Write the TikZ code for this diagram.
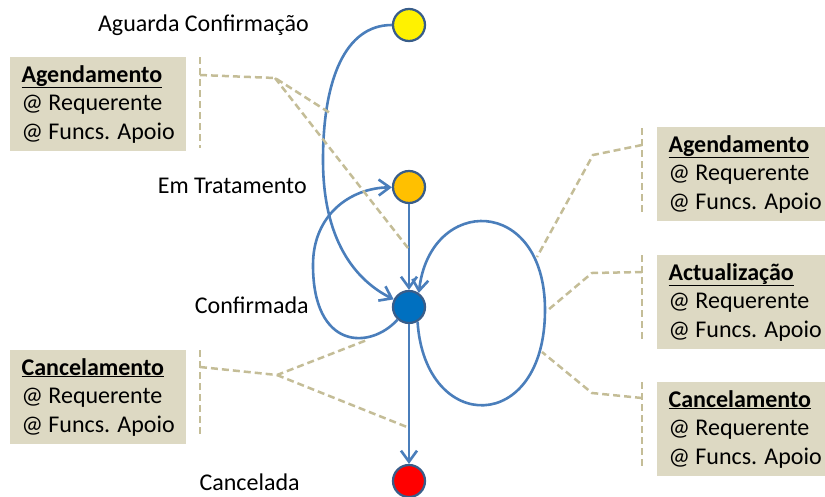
\documentclass[tikz,border=0pt]{standalone}
\usepackage{fontspec}
\setmainfont{Carlito}
\usetikzlibrary{arrows.meta}
\usetikzlibrary{positioning}

\definecolor{linkblue}{HTML}{4A7EBB}
\definecolor{stateborder}{HTML}{385D8A}
\definecolor{notefill}{HTML}{DDD9C3}
\definecolor{guidetan}{HTML}{C4BD97}

\begin{document}
\begin{tikzpicture}[x=1pt,y=-1pt,
  state/.style={circle,draw=stateborder,line width=2.25pt,minimum size=32pt,inner sep=0pt},
  lbl/.style={font=\fontsize{24}{28}\selectfont,inner sep=0pt,text height=17pt,text depth=5pt},
  flow/.style={draw=linkblue,line width=2.6pt,-{Straight Barb[length=11pt,width=16pt]}},
  note/.style={fill=notefill,anchor=north west,align=left,minimum width=176pt,
    inner xsep=10pt,inner ysep=8pt,font=\fontsize{24}{28.5}\selectfont},
  guide/.style={draw=guidetan,line width=2.5pt,dash pattern=on 7pt off 4pt}]
  \useasboundingbox (0,0) rectangle (825,496);

  % estados
  \node[state,fill=yellow]           (aguarda)    at (409,25)  {};
  \node[state,fill={rgb,255:red,255;green,192;blue,0}] (tratamento) at (409,187) {};
  \node[state,fill={rgb,255:red,0;green,112;blue,192}] (confirmada) at (409,307) {};
  \node[state,fill=red]              (cancelada)  at (409,481) {};

  \node[lbl,left=83pt of aguarda]    {Aguarda Confirmação};
  \node[lbl,left=85pt of tratamento] {Em Tratamento};
  \node[lbl,left=83pt of confirmada] {Confirmada};
  \node[lbl,left=92pt of cancelada,yshift=-3pt] {Cancelada};

  % notas
  \node[note] (agLeft) at (10,57)  {\underline{\textbf{Agendamento}}\\@ Requerente\\@ Funcs. Apoio};
  \node[note] (caLeft) at (10,350) {\underline{\textbf{Cancelamento}}\\@ Requerente\\@ Funcs. Apoio};
  \node[note] (agRight) at (657,127) {\underline{\textbf{Agendamento}}\\@ Requerente\\@ Funcs. Apoio};
  \node[note] (acRight) at (657,255) {\underline{\textbf{Actualização}}\\@ Requerente\\@ Funcs. Apoio};
  \node[note] (caRight) at (657,382) {\underline{\textbf{Cancelamento}}\\@ Requerente\\@ Funcs. Apoio};

  % transicoes
  \path[flow]
    (aguarda) .. controls (345,25) and (323,80) .. (323,160)
              .. controls (323,240) and (355,280) .. (confirmada);
  \path[flow] (tratamento) -- (confirmada);
  \path[flow] (confirmada) -- (cancelada);
  \path[flow]
    (confirmada) .. controls (370,350) and (313,350) .. (313,265)
                 .. controls (313,215) and (350,188) .. (tratamento);
  \path[flow]
    (confirmada.-60) .. controls (425,435) and (545,435) .. (545,310)
                     .. controls (545,195) and (430,195) .. (confirmada.55);

  % guias
  \coordinate (g1) at (275,78);
  \coordinate (g2) at (277,375);
  \coordinate (g3) at (593,155);
  \coordinate (g4) at (592,273);
  \coordinate (g5) at (592,393);
  \draw[guide] (200,57) -- (200,148);
  \draw[guide] (200,75) -- (g1) -- (330,113);
  \draw[guide] (g1) -- (408,248);
  \draw[guide] (200,350) -- (200,437);
  \draw[guide] (200,367) -- (g2) -- (367,340);
  \draw[guide] (g2) -- (407,427);
  \draw[guide] (642,128) -- (642,215);
  \draw[guide] (642,145) -- (g3) -- (537,257);
  \draw[guide] (642,255) -- (642,342);
  \draw[guide] (642,272) -- (g4) -- (548,310);
  \draw[guide] (642,382) -- (642,468);
  \draw[guide] (642,398) -- (g5) -- (542,352);
\end{tikzpicture}
\end{document}
